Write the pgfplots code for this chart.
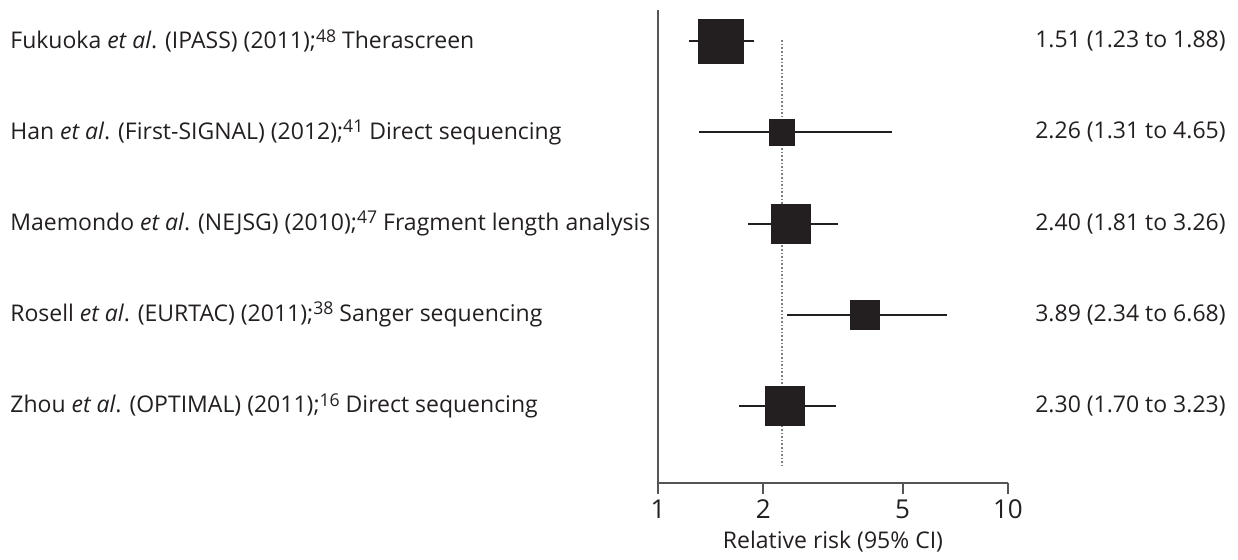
\documentclass[border=0pt]{standalone}
\usepackage{pgfplots}
\pgfplotsset{compat=1.18}
\usepackage{fontspec}
\setmainfont{Open Sans}
\definecolor{ink}{HTML}{231F20}
\definecolor{axisgray}{HTML}{555555}
\newcommand{\sups}[1]{\raisebox{0.55ex}{\fontsize{8.8pt}{10pt}\selectfont #1}}
\begin{document}
\fontsize{11.5pt}{13.8pt}\selectfont
\begin{tikzpicture}[x=1pt,y=1pt]
\begin{axis}[
  scale only axis,
  width=175pt, height=236.5pt,
  xmode=log, xmin=1, xmax=10,
  ymin=0.66, ymax=5.844, y dir=reverse,
  axis lines*=left,
  axis line style={axisgray, line width=1pt},
  xtick={1,2,5,10}, xticklabels={1,2,5,10},
  minor xtick={}, ytick=\empty,
  tick align=outside, major tick length=5.5pt,
  every tick/.style={axisgray, line width=1pt},
  xticklabel style={font=\fontsize{13pt}{15pt}\selectfont, text=ink, yshift=1pt},
  xlabel={Relative risk (95\% CI)},
  xlabel style={font=\fontsize{11.5pt}{13.8pt}\selectfont, text=ink, yshift=2pt},
  clip=false,
]
% pooled dotted line
\addplot[densely dotted, gray, line width=0.8pt] coordinates {(2.26,0.99) (2.26,5.66)};
% CIs
\addplot[ink, line width=1pt] coordinates {(1.23,1) (1.88,1)};
\addplot[ink, line width=1pt] coordinates {(1.31,2) (4.65,2)};
\addplot[ink, line width=1pt] coordinates {(1.81,3) (3.26,3)};
\addplot[ink, line width=1pt] coordinates {(2.34,4) (6.68,4)};
\addplot[ink, line width=1pt] coordinates {(1.70,5) (3.23,5)};
% point estimates
\addplot[only marks, mark=square*, mark size=11.1pt, ink, mark options={fill=ink, draw=ink, line width=0.3pt}] coordinates {(1.51,1)};
\addplot[only marks, mark=square*, mark size=6.4pt, ink, mark options={fill=ink, draw=ink, line width=0.3pt}] coordinates {(2.26,2)};
\addplot[only marks, mark=square*, mark size=9.8pt, ink, mark options={fill=ink, draw=ink, line width=0.3pt}] coordinates {(2.40,3)};
\addplot[only marks, mark=square*, mark size=7.3pt, ink, mark options={fill=ink, draw=ink, line width=0.3pt}] coordinates {(3.89,4)};
\addplot[only marks, mark=square*, mark size=9.8pt, ink, mark options={fill=ink, draw=ink, line width=0.3pt}] coordinates {(2.30,5)};
% left labels
\begin{scope}[every node/.style={text=ink, inner sep=0pt}]
\node[anchor=west, xshift=-324pt] at (axis cs:1,1) {Fukuoka \textit{et al}. (IPASS) (2011);\sups{48} Therascreen};
\node[anchor=west, xshift=-324pt] at (axis cs:1,2) {Han \textit{et al}. (First-SIGNAL) (2012);\sups{41} Direct sequencing};
\node[anchor=west, xshift=-324pt] at (axis cs:1,3) {Maemondo \textit{et al}. (NEJSG) (2010);\sups{47} Fragment length analysis};
\node[anchor=west, xshift=-324pt] at (axis cs:1,4) {Rosell \textit{et al}. (EURTAC) (2011);\sups{38} Sanger sequencing};
\node[anchor=west, xshift=-324pt] at (axis cs:1,5) {Zhou \textit{et al}. (OPTIMAL) (2011);\sups{16} Direct sequencing};
\node[anchor=east, xshift=109pt] at (axis cs:10,1) {1.51 (1.23 to 1.88)};
\node[anchor=east, xshift=109pt] at (axis cs:10,2) {2.26 (1.31 to 4.65)};
\node[anchor=east, xshift=109pt] at (axis cs:10,3) {2.40 (1.81 to 3.26)};
\node[anchor=east, xshift=109pt] at (axis cs:10,4) {3.89 (2.34 to 6.68)};
\node[anchor=east, xshift=109pt] at (axis cs:10,5) {2.30 (1.70 to 3.23)};
\end{scope}
\path[use as bounding box] ([xshift=-329pt, yshift=-33pt]rel axis cs:0,0) rectangle ([xshift=290pt, yshift=5pt]rel axis cs:0,1);
\end{axis}
\end{tikzpicture}
\end{document}
